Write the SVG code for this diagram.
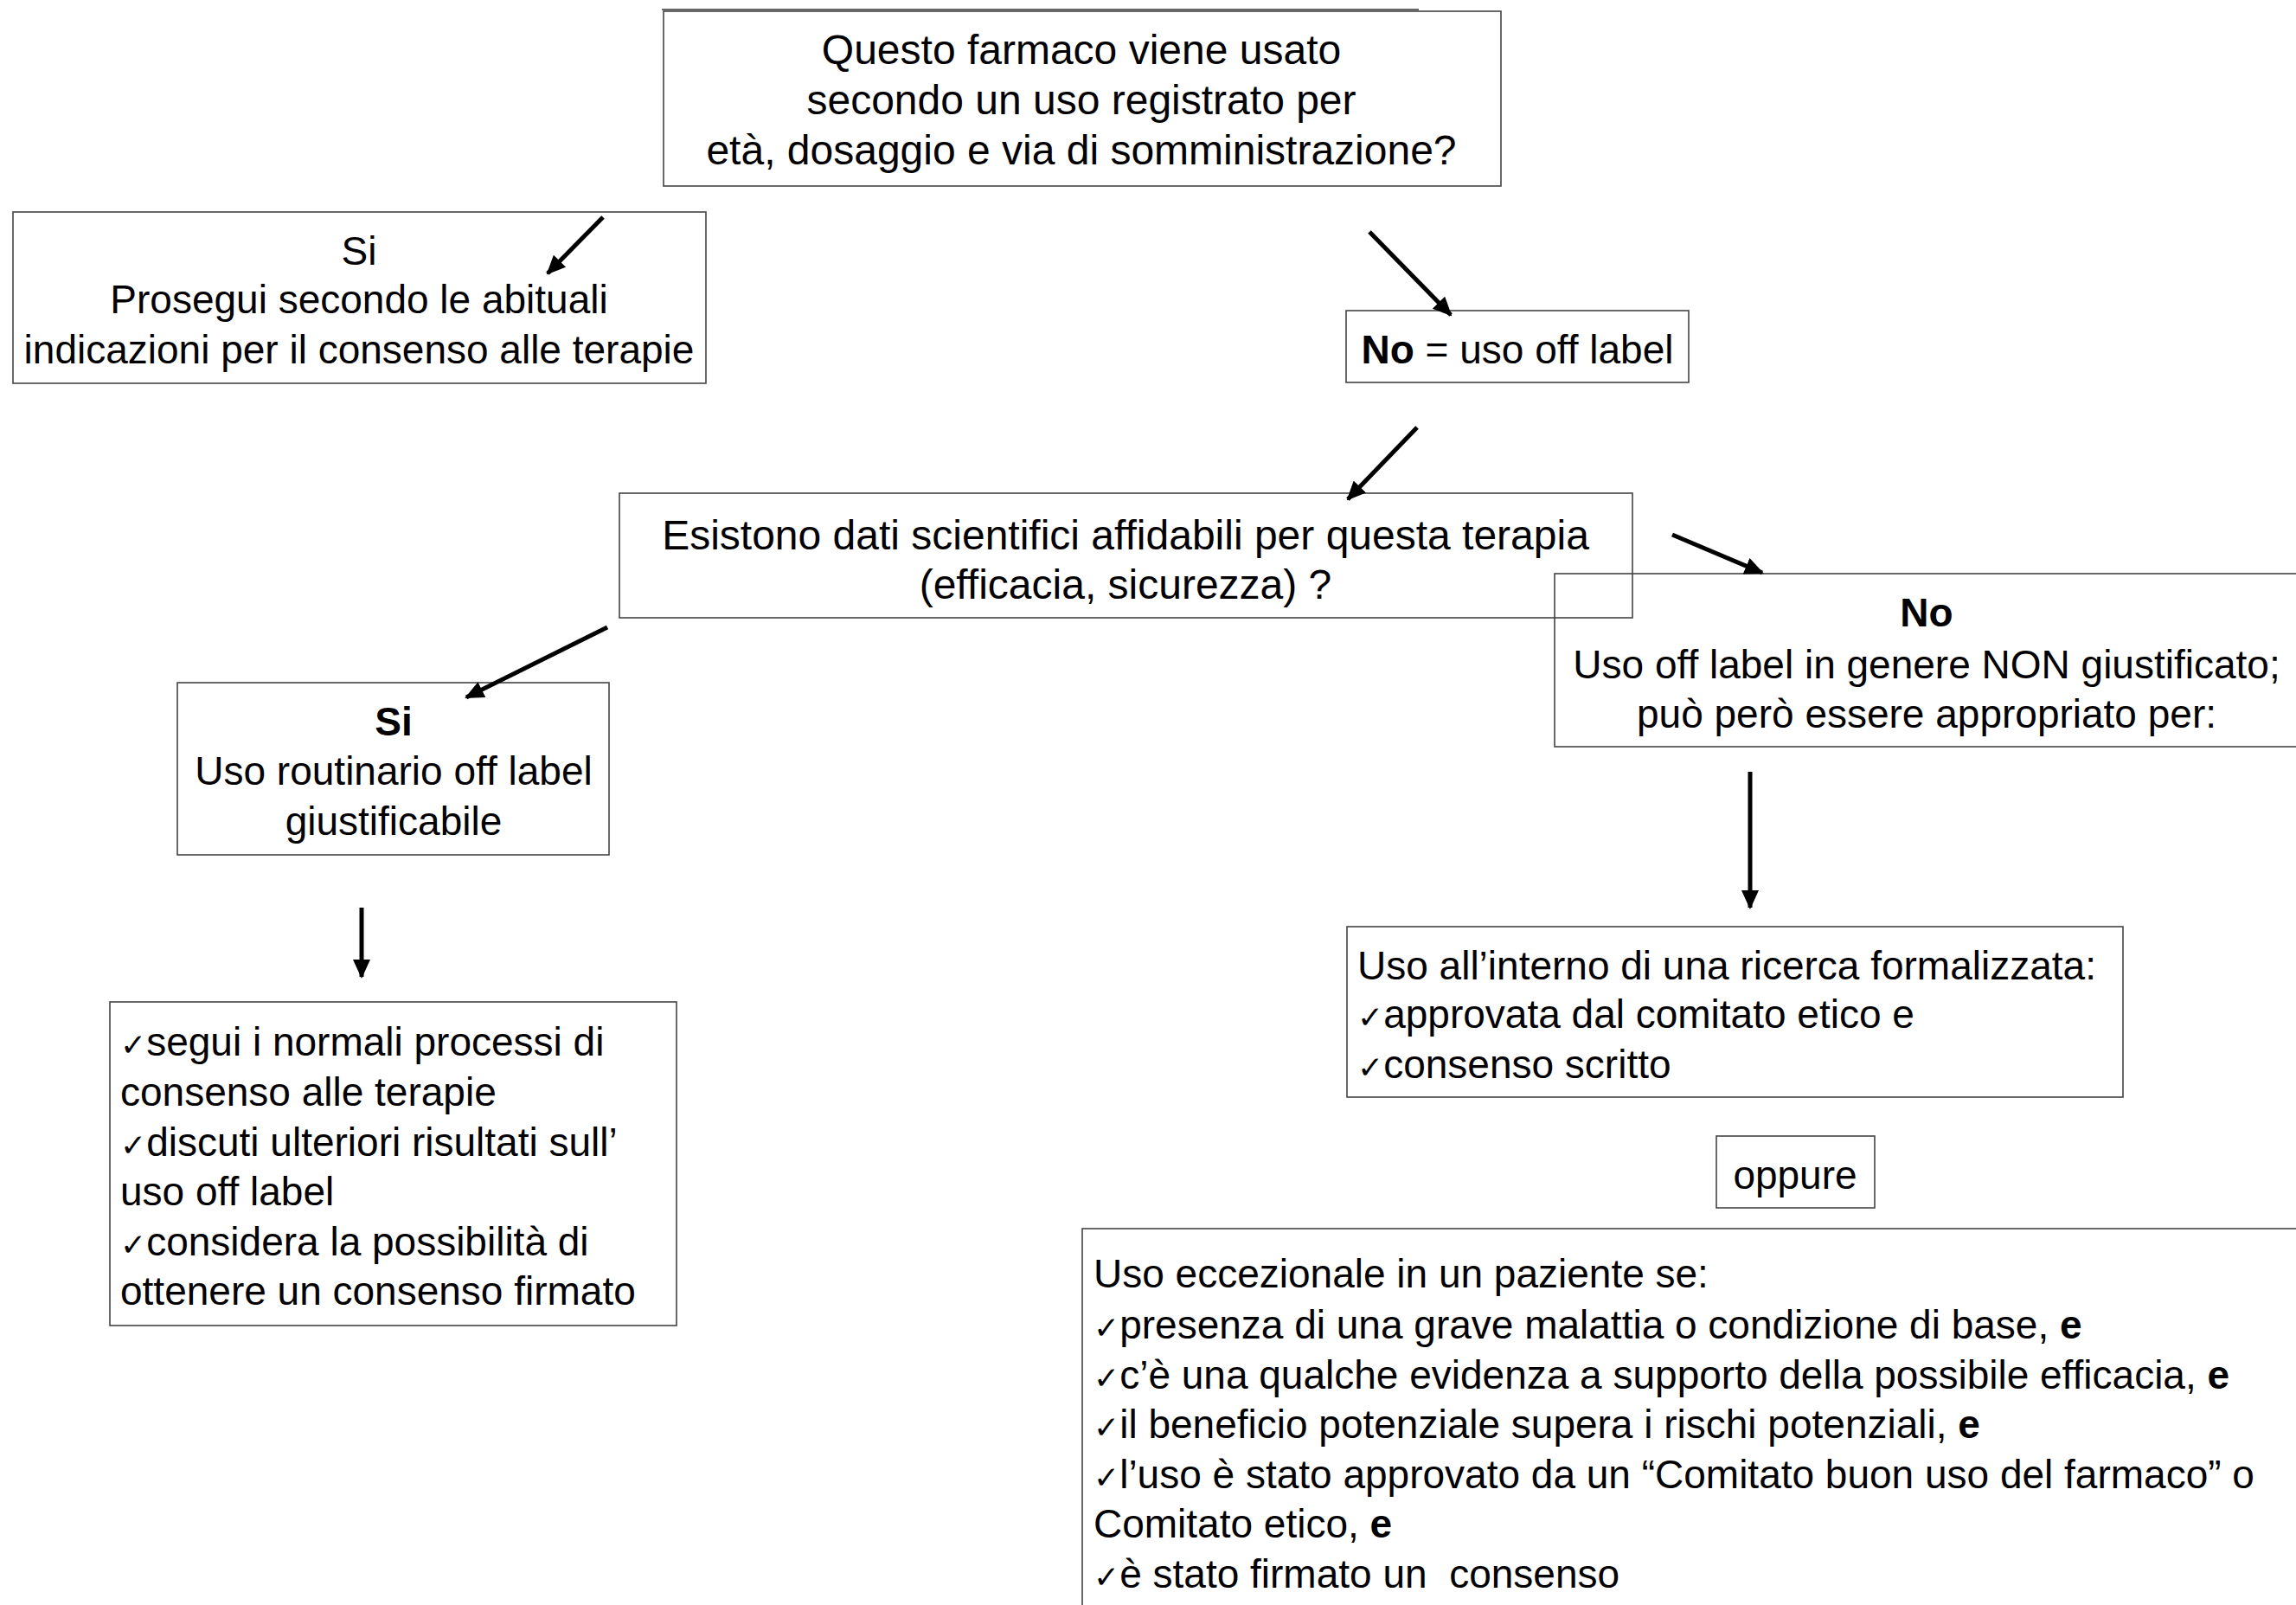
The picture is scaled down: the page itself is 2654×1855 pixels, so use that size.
<svg xmlns="http://www.w3.org/2000/svg" width="2654" height="1855" viewBox="0 0 2654 1855">
<style>
.box{fill:none;stroke:#444;stroke-width:1.6}
.t{font-family:"Liberation Sans",Arial,"DejaVu Sans",sans-serif;font-size:46px;fill:#000}
.l{font-size:48px}
.c{text-anchor:middle}
.b{font-weight:bold}
.ck{font-family:"DejaVu Sans",sans-serif;font-size:36px}
.arr{stroke:#000;stroke-width:5;fill:none;marker-end:url(#ah)}
</style>
<defs>
<marker id="ah" markerUnits="userSpaceOnUse" markerWidth="22" markerHeight="20" refX="20" refY="10" orient="auto">
<path d="M0,0 L22,10 L0,20 Z" fill="#000"/>
</marker>
</defs>
<rect width="2654" height="1855" fill="#fff"/>
<line x1="765" y1="11" x2="1640" y2="11" stroke="#666" stroke-width="2"/>

<g id="q1">
<rect class="box" x="767" y="13" width="968" height="202"/>
<text class="t l c" x="1250" y="74">Questo farmaco viene usato</text>
<text class="t l c" x="1250" y="132">secondo un uso registrato per</text>
<text class="t l c" x="1250" y="190">età, dosaggio e via di somministrazione?</text>
</g>

<g id="si1">
<rect class="box" x="15" y="245" width="801" height="198"/>
<text class="t c" x="415" y="306">Si</text>
<text class="t c" x="415" y="362">Prosegui secondo le abituali</text>
<text class="t c" x="415" y="420">indicazioni per il consenso alle terapie</text>
</g>

<g id="no1">
<rect class="box" x="1556" y="359" width="396" height="83"/>
<text class="t c" x="1754" y="420"><tspan class="b">No</tspan> = uso off label</text>
</g>

<g id="q2">
<rect class="box" x="716" y="570" width="1171" height="144"/>
<text class="t l c" x="1301" y="635">Esistono dati scientifici affidabili per questa terapia</text>
<text class="t l c" x="1301" y="692">(efficacia, sicurezza) ?</text>
</g>

<g id="no2">
<rect class="box" x="1797" y="663" width="860" height="200"/>
<text class="t c b" x="2227" y="724">No</text>
<text class="t c" x="2227" y="784">Uso off label in genere NON giustificato;</text>
<text class="t c" x="2227" y="841">può però essere appropriato per:</text>
</g>

<g id="si2">
<rect class="box" x="205" y="789" width="499" height="199"/>
<text class="t c b" x="455" y="850">Si</text>
<text class="t c" x="455" y="907">Uso routinario off label</text>
<text class="t c" x="455" y="965">giustificabile</text>
</g>

<g id="list1">
<rect class="box" x="127" y="1158" width="655" height="374"/>
<text class="t" x="139" y="1220"><tspan class="ck">✓</tspan>segui i normali processi di</text>
<text class="t" x="139" y="1278">consenso alle terapie</text>
<text class="t" x="139" y="1336"><tspan class="ck">✓</tspan>discuti ulteriori risultati sull’</text>
<text class="t" x="139" y="1393">uso off label</text>
<text class="t" x="139" y="1451"><tspan class="ck">✓</tspan>considera la possibilità di</text>
<text class="t" x="139" y="1508">ottenere un consenso firmato</text>
</g>

<g id="ricerca">
<rect class="box" x="1557" y="1071" width="897" height="197"/>
<text class="t" x="1569" y="1132">Uso all’interno di una ricerca formalizzata:</text>
<text class="t" x="1569" y="1188"><tspan class="ck">✓</tspan>approvata dal comitato etico e</text>
<text class="t" x="1569" y="1246"><tspan class="ck">✓</tspan>consenso scritto</text>
</g>

<g id="oppure">
<rect class="box" x="1984" y="1313" width="183" height="83"/>
<text class="t c" x="2075" y="1374">oppure</text>
</g>

<g id="eccezionale">
<rect class="box" x="1251" y="1420" width="1410" height="450"/>
<text class="t" x="1264" y="1488">Uso eccezionale in un paziente se:</text>
<text class="t" x="1264" y="1547"><tspan class="ck">✓</tspan>presenza di una grave malattia o condizione di base, <tspan class="b">e</tspan></text>
<text class="t" x="1264" y="1605"><tspan class="ck">✓</tspan>c’è una qualche evidenza a supporto della possibile efficacia, <tspan class="b">e</tspan></text>
<text class="t" x="1264" y="1662"><tspan class="ck">✓</tspan>il beneficio potenziale supera i rischi potenziali, <tspan class="b">e</tspan></text>
<text class="t" x="1264" y="1720"><tspan class="ck">✓</tspan>l’uso è stato approvato da un “Comitato buon uso del farmaco” o</text>
<text class="t" x="1264" y="1777">Comitato etico, <tspan class="b">e</tspan></text>
<text class="t" x="1264" y="1835" style="white-space:pre"><tspan class="ck">✓</tspan>è stato firmato un  consenso</text>
</g>

<g id="connectors">
<line class="arr" x1="697" y1="251" x2="633" y2="316"/>
<line class="arr" x1="1583" y1="268" x2="1677" y2="364"/>
<line class="arr" x1="1638" y1="494" x2="1558" y2="577"/>
<line class="arr" x1="702" y1="725" x2="539" y2="806"/>
<line class="arr" x1="1933" y1="618" x2="2037" y2="662"/>
<line class="arr" x1="418" y1="1049" x2="418" y2="1129"/>
<line class="arr" x1="2023" y1="892" x2="2023" y2="1049"/>
</g>
</svg>
